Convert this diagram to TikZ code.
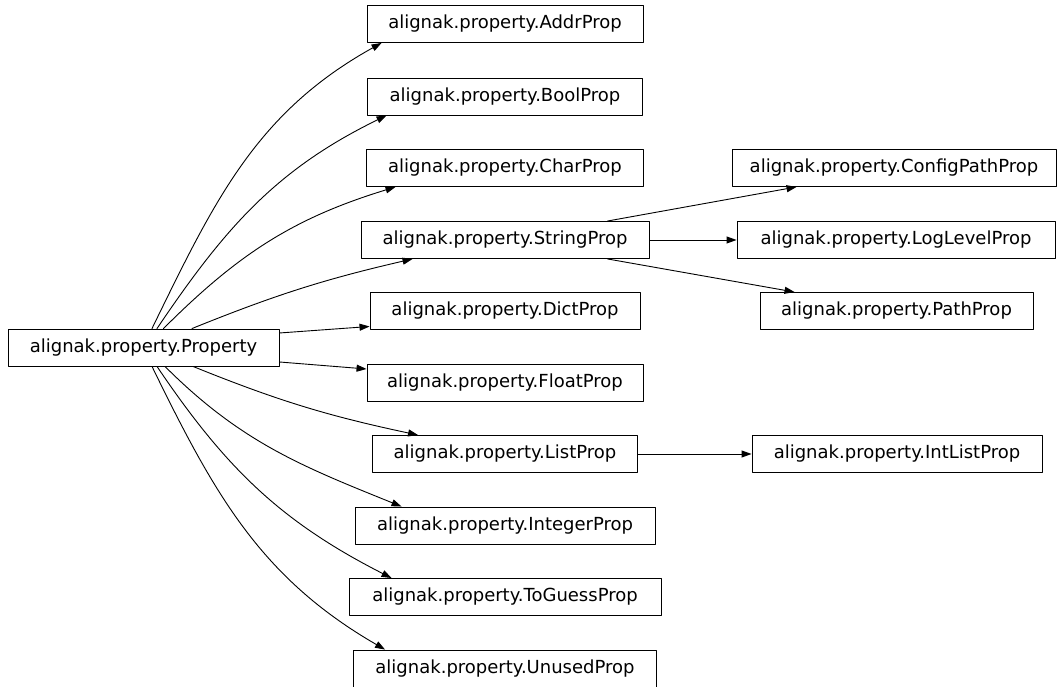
\documentclass[tikz,border=0pt]{standalone}
\usepackage{fontspec}
\setmainfont{DejaVu Sans}
\usepackage{tikz}
\usetikzlibrary{arrows.meta}
\tikzstyle{every node}=[font=\fontsize{18}{22}\selectfont]
\tikzstyle{classbox}=[draw,line width=0.9pt,inner sep=0pt,minimum height=37pt]
\tikzstyle{inherit}=[->,line width=0.9pt]

\begin{document}
\begin{tikzpicture}[line cap=round,line join=round,>={Triangle[length=10pt,width=7pt]},x=1pt,y=1pt]
            \useasboundingbox (0,0) rectangle (1058,687);
            % base class
            \node[classbox,minimum width=271pt] (property) at (143.5,339.5) {alignak.property.Property};
            % direct subclasses
            \node[classbox,minimum width=276pt] (addrprop) at (505,663) {alignak.property.AddrProp};
            \node[classbox,minimum width=275pt] (boolprop) at (505,590.5) {alignak.property.BoolProp};
            \node[classbox,minimum width=277pt] (charprop) at (505,519) {alignak.property.CharProp};
            \node[classbox,minimum width=288pt] (stringprop) at (505,447) {alignak.property.StringProp};
            \node[classbox,minimum width=270pt] (dictprop) at (505,376) {alignak.property.DictProp};
            \node[classbox,minimum width=276pt] (floatprop) at (505,304.5) {alignak.property.FloatProp};
            \node[classbox,minimum width=265pt] (listprop) at (505,233) {alignak.property.ListProp};
            \node[classbox,minimum width=300pt] (integerprop) at (505,161.5) {alignak.property.IntegerProp};
            \node[classbox,minimum width=312pt] (toguessprop) at (505,90) {alignak.property.ToGuessProp};
            \node[classbox,minimum width=303pt] (unusedprop) at (505,18.5) {alignak.property.UnusedProp};
            % second level
            \node[classbox,minimum width=324pt] (configpathprop) at (894,519) {alignak.property.ConfigPathProp};
            \node[classbox,minimum width=318pt] (loglevelprop) at (896,447) {alignak.property.LogLevelProp};
            \node[classbox,minimum width=273pt] (pathprop) at (896.5,376) {alignak.property.PathProp};
            \node[classbox,minimum width=290pt] (intlistprop) at (897,233) {alignak.property.IntListProp};
            % edges from Property
            \draw [inherit] ([xshift=8.5pt]property.north) to[out=64,in=209] ([xshift=15pt]addrprop.south west);
            \draw [inherit] ([xshift=13.5pt]property.north) to[out=56,in=206] ([xshift=19.5pt]boolprop.south west);
            \draw [inherit] ([xshift=20pt]property.north) to[out=45,in=197] ([xshift=29.5pt]charprop.south west);
            \draw [inherit] ([xshift=48.5pt]property.north) to[out=22,in=193] ([xshift=52pt]stringprop.south west);
            \draw [inherit] ([yshift=14.5pt]property.east) -- ([yshift=-15.5pt]dictprop.west);
            \draw [inherit] ([yshift=-14.5pt]property.east) -- ([yshift=13.5pt]floatprop.west);
            \draw [inherit] ([xshift=49.5pt]property.south) to[out=-22,in=168] ([xshift=46pt]listprop.north west);
            \draw [inherit] ([xshift=21.5pt]property.south) to[out=-45,in=158] ([xshift=47pt]integerprop.north west);
            \draw [inherit] ([xshift=13.5pt]property.south) to[out=-56,in=153] ([xshift=43pt]toguessprop.north west);
            \draw [inherit] ([xshift=8.5pt]property.south) to[out=-64,in=150] ([xshift=32pt]unusedprop.north west);
            % edges from StringProp and ListProp
            \draw [inherit] ([xshift=-42pt]stringprop.north east) -- ([xshift=65pt]configpathprop.south west);
            \draw [inherit] (stringprop.east) -- (loglevelprop.west);
            \draw [inherit] ([xshift=-42pt]stringprop.south east) -- ([xshift=35pt]pathprop.north west);
            \draw [inherit] (listprop.east) -- (intlistprop.west);
\end{tikzpicture}
\end{document}
